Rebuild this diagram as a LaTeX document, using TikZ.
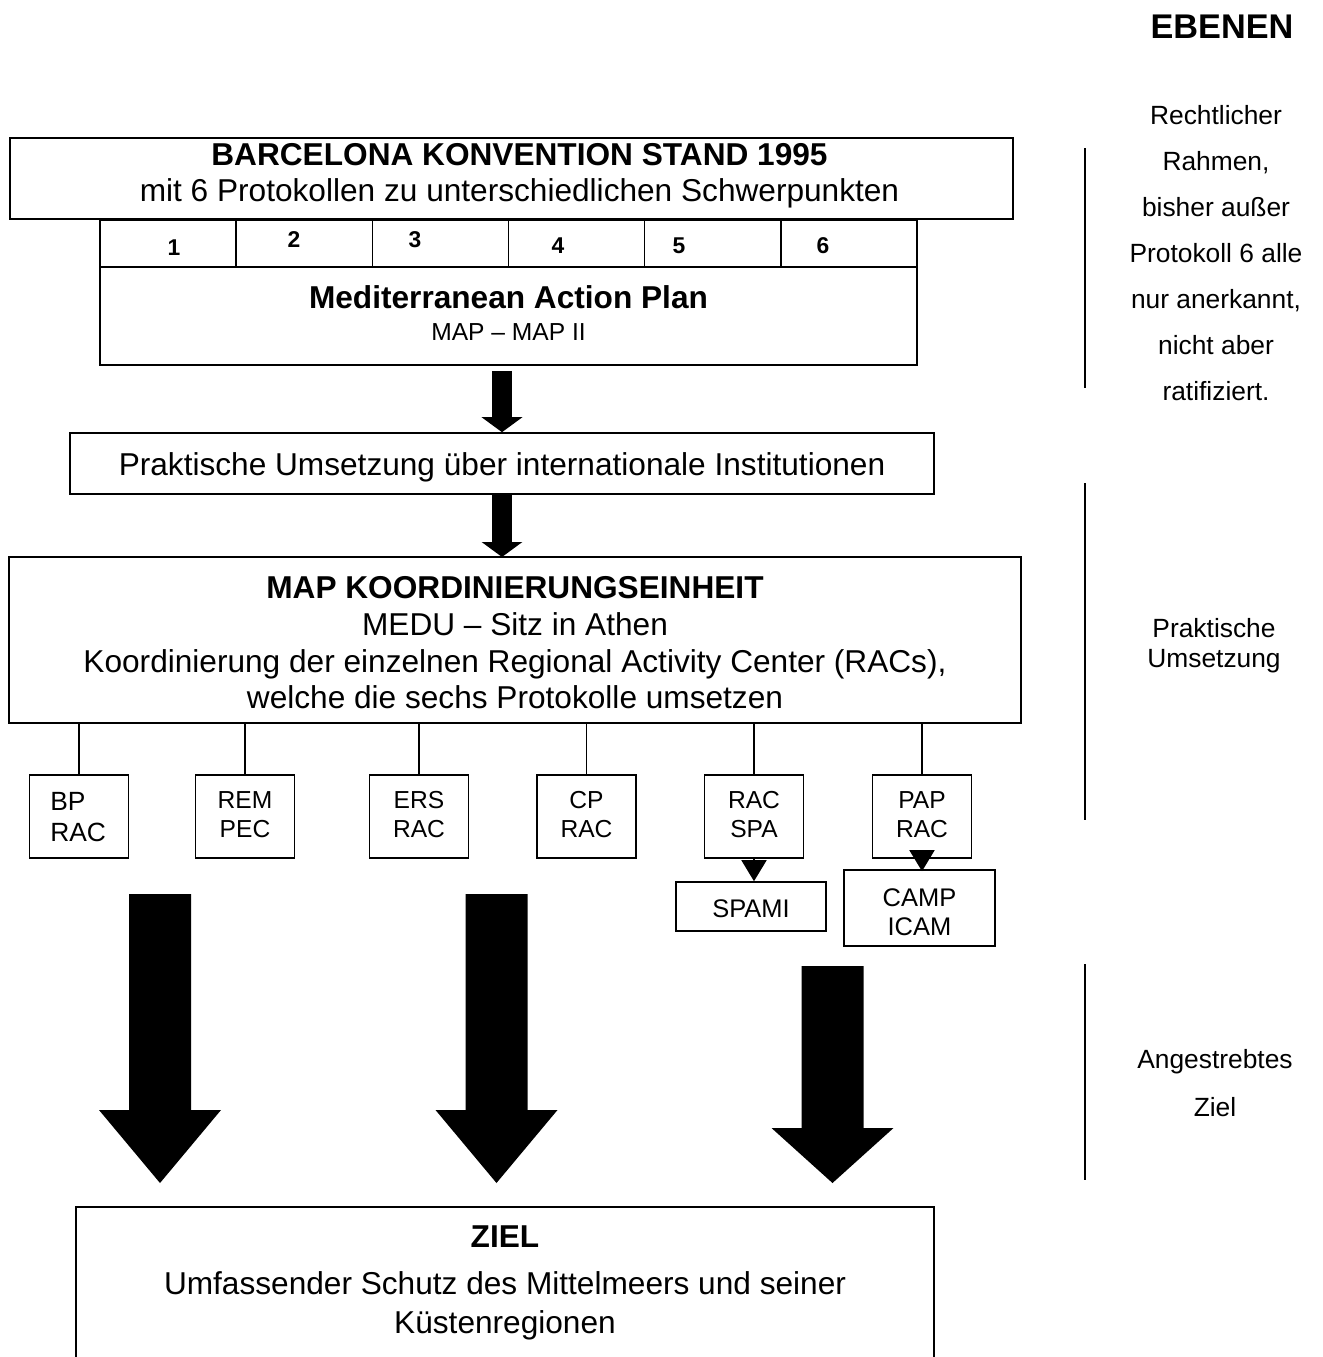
\documentclass[tikz,border=0pt]{standalone}
\usepackage{fontspec}
\setmainfont{Liberation Sans}
\usetikzlibrary{arrows.meta}
\tikzstyle{box} = [rectangle, draw, line width=0.9pt, inner sep=0pt]
\tikzstyle{txt} = [inner sep=0pt, anchor=base, font=\fontsize{18}{21}\selectfont]
\tikzstyle{title} = [txt, font=\fontsize{18}{21}\selectfont\bfseries]
\tikzstyle{num} = [txt, font=\fontsize{13}{15}\selectfont\bfseries]
\tikzstyle{small} = [txt, font=\fontsize{14}{16}\selectfont]
\tikzstyle{side} = [txt, font=\fontsize{15}{17}\selectfont]
\tikzstyle{flow} = [line width=0.4cm, -{Triangle[width=0.8cm, length=0.3cm]}]
\tikzstyle{link} = [line width=0.9pt, -{Triangle[width=0.5cm, length=0.42cm]}]

\begin{document}
\begin{tikzpicture}[x=0.02cm, y=-0.02cm]
  \useasboundingbox (0,0) rectangle (1323,1357);
  \clip (0,0) rectangle (1323,1357);

  % Ebenen rechts
  \node[title, font=\fontsize{19.5}{22}\selectfont\bfseries] (ebenen) at (1222,38) {EBENEN};
  \foreach \t [count=\i from 0] in {Rechtlicher,{Rahmen,},bisher außer,Protokoll 6 alle,{nur anerkannt,},nicht aber,ratifiziert.}
    \node[side] (recht\i) at (1216,124+46*\i) {\t};
  \node[side] (prakA) at (1214,637) {Praktische};
  \node[side] (prakB) at (1214,667) {Umsetzung};
  \node[side] (zielA) at (1215,1068) {Angestrebtes};
  \node[side] (zielB) at (1215,1116) {Ziel};
  \draw[line width=0.8pt] (1085,148) -- (1085,388);
  \draw[line width=0.8pt] (1085,483) -- (1085,820);
  \draw[line width=0.8pt] (1085,964) -- (1085,1180);

  % Konvention und MAP
  \node[box, minimum width=20.06cm, minimum height=1.62cm] (conv) at (511.5,178.5) {};
  \node[title] (convA) at (519.5,165) {BARCELONA KONVENTION STAND 1995};
  \node[txt] (convB) at (519.5,201) {mit 6 Protokollen zu unterschiedlichen Schwerpunkten};
  \foreach \i in {1,...,6}
    \node[box, minimum width=2.7233cm, minimum height=0.94cm] (p\i) at (100+136.17*\i-68.08,243.5) {};
  \node[num] (n1) at (174,255) {1};
  \node[num] (n2) at (294,247) {2};
  \node[num] (n3) at (415,247) {3};
  \node[num] (n4) at (558,253) {4};
  \node[num] (n5) at (679,253) {5};
  \node[num] (n6) at (823,253) {6};
  \node[box, minimum width=16.34cm, minimum height=1.96cm] (map) at (508.5,316) {};
  \node[title] (mapA) at (508.5,308) {Mediterranean Action Plan};
  \node[small] (mapB) at (508.5,340) {MAP – MAP II};

  % Umsetzung
  \node[box, minimum width=17.28cm, minimum height=1.22cm] (prak) at (502,463.5) {};
  \node[txt] (prakT) at (502,475) {Praktische Umsetzung über internationale Institutionen};
  \path[draw,flow] ([yshift=-0.1cm]prak.north |- map.south) -- (prak.north);
  \path[draw,flow] (prak.south) -- (prak.south |- 0,557);

  \node[box, minimum width=20.24cm, minimum height=3.32cm] (koord) at (515,640) {};
  \node[title] (koordA) at (515,598) {MAP KOORDINIERUNGSEINHEIT};
  \node[txt] (koordB) at (515,635) {MEDU – Sitz in Athen};
  \node[txt] (koordC) at (515,672) {Koordinierung der einzelnen Regional Activity Center (RACs),};
  \node[txt] (koordD) at (515,708) {welche die sechs Protokolle umsetzen};

  % RACs
  \foreach \x [count=\i] in {79,245,419,586.5,754,922} {
    \node[box, minimum width=1.98cm, minimum height=1.66cm] (rac\i) at (\x,816.5) {};
    \draw[line width=0.8pt] (rac\i.north) -- (rac\i.north |- koord.south);
  }
  \node[small, anchor=base west, font=\fontsize{15}{17}\selectfont] (racA1) at (50,810) {BP};
  \node[small, anchor=base west, font=\fontsize{15}{17}\selectfont] (racB1) at (50,841) {RAC};
  \foreach \a/\b [count=\i from 2] in {REM/PEC,ERS/RAC,CP/RAC,RAC/SPA,PAP/RAC} {
    \node[small] (racA\i) at (rac\i.center |- 0,808) {\a};
    \node[small] (racB\i) at (rac\i.center |- 0,837) {\b};
  }
  \node[box, minimum width=3cm, minimum height=0.98cm] (spami) at (751,906.5) {};
  \node[small, font=\fontsize{14.5}{16}\selectfont] (spamiT) at (751,917) {SPAMI};
  \node[box, minimum width=3.02cm, minimum height=1.52cm] (camp) at (919.5,908) {};
  \node[small, font=\fontsize{14.5}{16}\selectfont] (campA) at (919.5,906) {CAMP};
  \node[small, font=\fontsize{14.5}{16}\selectfont] (campB) at (919.5,935) {ICAM};
  \path[draw,link] (rac5.south) -- (rac5.south |- spami.north);
  \path[draw,link] (rac6.south) -- ([yshift=-0.04cm]rac6.south |- camp.north);

  % grosse Pfeile zum Ziel
  \foreach \cx/\top/\neck in {160/894/1110, 496.5/894/1110, 832.5/966/1128}
    \fill (\cx-31,\top) -- (\cx+31,\top) -- (\cx+31,\neck) -- (\cx+61,\neck)
      -- (\cx,1183) -- (\cx-61,\neck) -- (\cx-31,\neck) -- cycle;

  \node[box, minimum width=17.16cm, minimum height=4.26cm] (ziel) at (505,1313.5) {};
  \node[title] (zielT) at (505,1247) {ZIEL};
  \node[txt] (zielU) at (505,1294) {Umfassender Schutz des Mittelmeers und seiner};
  \node[txt] (zielK) at (505,1333) {Küstenregionen};
\end{tikzpicture}
\end{document}
